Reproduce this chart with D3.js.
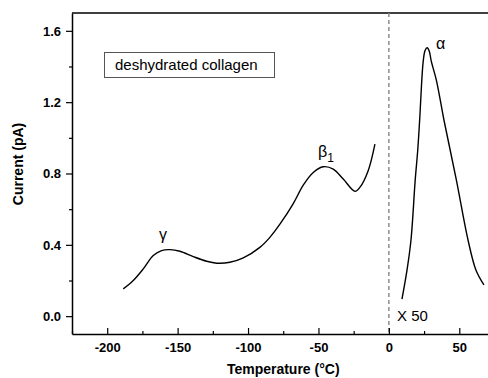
<!DOCTYPE html>
<html>
<head>
<meta charset="utf-8">
<script src="https://cdn.jsdelivr.net/npm/d3@7"></script>
<style>
  html, body { margin: 0; padding: 0; background: #fff; }
  svg { display: block; }
  text { font-family: "Liberation Sans", Arial, sans-serif; }
</style>
</head>
<body>
<svg id="chart" width="488" height="378"></svg>
<script>
// ---- Data ----
const lowTemp    = [-188.6, -181.5, -174.4, -167.3, -161.4, -155.5, -148.4, -138.9, -129.4, -122.3, -112.9, -103.4, -91.6, -84.5, -77.0, -68.0, -60.8, -53.7, -46.6, -39.5, -32.4, -24.0, -20.6, -14.7, -9.9];
const lowCurrent = [0.153, 0.200, 0.265, 0.340, 0.368, 0.373, 0.364, 0.334, 0.308, 0.297, 0.302, 0.327, 0.386, 0.442, 0.520, 0.630, 0.735, 0.806, 0.838, 0.825, 0.769, 0.700, 0.722, 0.816, 0.965];

const highTemp    = [9.3, 12.9, 15.7, 18.7, 20.5, 22.0, 23.2, 24.4, 25.7, 27.2, 28.7, 30.1, 33.7, 36.5, 39.1, 47.9, 56.2, 61.8, 67.5];
const highCurrent = [0.095, 0.259, 0.427, 0.764, 0.932, 1.120, 1.300, 1.430, 1.490, 1.505, 1.485, 1.430, 1.324, 1.212, 1.100, 0.764, 0.427, 0.259, 0.175];

const xMajorTicks = [-200, -150, -100, -50, 0, 50];
const xMinorTicks = [-225, -175, -125, -75, -25, 25, 75];
const yMajorTicks = [0.0, 0.4, 0.8, 1.2, 1.6];
const yMinorTicks = [0.2, 0.6, 1.0, 1.4];

const peakLabels = [
  { text: "γ", t: -163.2, v: 0.427 },
  { text: "β", t: -50.3,  v: 0.892, sub: "1" },
  { text: "α", t: 33.4,   v: 1.499 }
];
const legendText = "deshydrated collagen";
const scaleNote = "X 50";

// ---- Layout ----
const svg = d3.select("#chart");
const mLeft = 72, mTop = 13, mBottom = 334, mRight = 494.5;

const x = d3.scaleLinear().domain([-225, 75]).range([mLeft, mRight]);
const y = d3.scaleLinear().domain([-0.1, 1.7]).range([mBottom, mTop]);

// top frame line
svg.append("line")
  .attr("x1", mLeft).attr("x2", mRight)
  .attr("y1", mTop).attr("y2", mTop)
  .attr("stroke", "#000").attr("stroke-width", 1.5);

// dashed zero line
svg.append("line")
  .attr("x1", x(0)).attr("x2", x(0))
  .attr("y1", mTop).attr("y2", mBottom)
  .attr("stroke", "#8c8c8c").attr("stroke-width", 1.5)
  .attr("stroke-dasharray", "4,3");

// X axis (ticks pointing inward)
const gx = svg.append("g").attr("transform", `translate(0,${mBottom})`)
  .call(d3.axisBottom(x).tickValues(xMajorTicks).tickSize(-6).tickPadding(9)
        .tickFormat(d => String(d)).tickSizeOuter(0));
gx.append("g").call(d3.axisBottom(x).tickValues(xMinorTicks).tickSize(-3).tickFormat("").tickSizeOuter(0))
  .select(".domain").remove();

// Y axis (ticks pointing outward)
const gy = svg.append("g").attr("transform", `translate(${mLeft},0)`)
  .call(d3.axisLeft(y).tickValues(yMajorTicks).tickSize(6).tickPadding(5)
        .tickFormat(d => d.toFixed(1)).tickSizeOuter(0));
gy.append("g").call(d3.axisLeft(y).tickValues(yMinorTicks).tickSize(3).tickFormat("").tickSizeOuter(0))
  .select(".domain").remove();

svg.selectAll(".domain").attr("stroke", "#000").attr("stroke-width", 1.5);
svg.selectAll(".tick line").attr("stroke", "#000").attr("stroke-width", 1.2);
svg.selectAll(".tick text")
  .attr("fill", "#000")
  .style("font-family", "'Liberation Sans', Arial, sans-serif")
  .style("font-size", "13px").style("font-weight", "bold");

// Axis titles
svg.append("text")
  .attr("x", (mLeft + mRight) / 2).attr("y", 374)
  .attr("text-anchor", "middle")
  .style("font-size", "14px").style("font-weight", "bold")
  .text("Temperature (°C)");
svg.append("text")
  .attr("transform", "translate(23,164) rotate(-90)")
  .attr("text-anchor", "middle")
  .style("font-size", "14px").style("font-weight", "bold")
  .text("Current (pA)");

// Curves
const line = d3.line().curve(d3.curveCatmullRom.alpha(0.5))
  .x(d => x(d[0])).y(d => y(d[1]));
const lowData = lowTemp.map((t, i) => [t, lowCurrent[i]]);
const highData = highTemp.map((t, i) => [t, highCurrent[i]]);
svg.append("path").datum(lowData).attr("d", line)
  .attr("fill", "none").attr("stroke", "#000").attr("stroke-width", 1.4);
svg.append("path").datum(highData).attr("d", line)
  .attr("fill", "none").attr("stroke", "#000").attr("stroke-width", 1.4);

// Peak labels
peakLabels.forEach(p => {
  const t = svg.append("text")
    .attr("x", x(p.t)).attr("y", y(p.v))
    .attr("fill", "#000")
    .style("font-size", "16px")
    .text(p.text);
  if (p.sub) {
    t.append("tspan").attr("dy", 5).attr("fill", "#000").style("font-size", "12px").text(p.sub);
  }
});

// Legend box
svg.append("rect")
  .attr("x", 104.5).attr("y", 52.5).attr("width", 170).attr("height", 25)
  .attr("fill", "#fff").attr("stroke", "#555").attr("stroke-width", 1);
svg.append("text")
  .attr("x", 115).attr("y", 69.5)
  .attr("fill", "#000")
  .style("font-size", "15px")
  .text(legendText);

// x50 note
svg.append("text")
  .attr("x", x(5.8)).attr("y", 321)
  .attr("fill", "#000")
  .style("font-size", "15px")
  .text(scaleNote);
</script>
</body>
</html>
